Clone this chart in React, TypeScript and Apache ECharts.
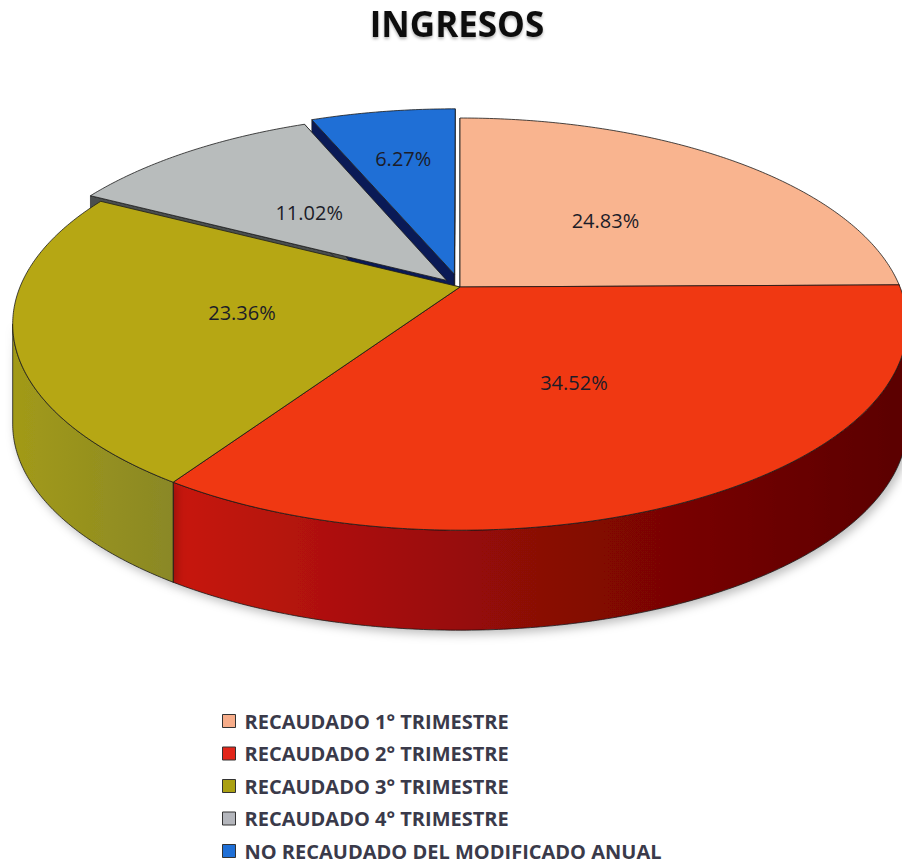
import React, { useEffect, useRef } from "react";
import * as echarts from "echarts";

// ---- data ----
const categories = [
  "RECAUDADO 1° TRIMESTRE",
  "RECAUDADO 2° TRIMESTRE",
  "RECAUDADO 3° TRIMESTRE",
  "RECAUDADO 4° TRIMESTRE",
  "NO RECAUDADO DEL MODIFICADO ANUAL",
];
const shares = [24.83, 34.52, 23.36, 11.02, 6.27];
const titleText = "INGRESOS";

// ---- styles ----
const explodeFraction = [0, 0, 0, 0.045, 0.066];
const topColors = ["#f9b48f", "#f03812", "#b6a714", "#b8bcbc", "#1f6fd6"];
const legendColors = ["#f7ad8a", "#e2261a", "#aaa012", "#b4b6bc", "#1f6fd6"];
const wallStops = [
  ["#c98a6a", "#a86a50"],
  ["#c8170c", "#8a0806", "#5a0202"],
  ["#a29a18", "#8a8826"],
  ["#7c8080", "#5e6262"],
  ["#0d2a78", "#08184a"],
];
const cutColors = ["#8a6a5a", "#7a0a04", "#6e6a10", "#4a4e4e", "#0a1a56"];

const G = { cx: 460, cy: 287, R: 440, k: 0.4532, p: 0.18, H: 100 };

function project(X: number, Y: number, Z: number): number[] {
  const s = 1 / (1 + (G.p * Y) / G.R);
  return [G.cx + X * s, G.cy - Y * G.k * s + Z * G.H];
}

export default function App() {
  const ref = useRef<HTMLDivElement>(null);
  useEffect(() => {
    if (!ref.current) return;
    const chart = echarts.init(ref.current, null, { renderer: "svg" });
    const total = shares.reduce((a, b) => a + b, 0);
    const vis0 = Math.acos(-G.p);
    const vis1 = 2 * Math.PI - vis0;

    const renderItem = (params: any, api: any) => {
      const i = params.dataIndex;
      const value = api.value(0);
      let start = 0;
      for (let j = 0; j < i; j++) start += shares[j];
      const a0 = (start / total) * 2 * Math.PI;
      const a1 = ((start + value) / total) * 2 * Math.PI;
      const mid = (a0 + a1) / 2;
      const ex = explodeFraction[i] * G.R;
      const ox = ex * Math.sin(mid);
      const oy = ex * Math.cos(mid);
      const rim = (a: number, z: number) =>
        project(ox + G.R * Math.sin(a), oy + G.R * Math.cos(a), z);
      const apex = (z: number) => project(ox, oy, z);
      const arc = (from: number, to: number, z: number) => {
        const pts: number[][] = [];
        const n = Math.max(2, Math.ceil(Math.abs(to - from) / 0.01));
        for (let t = 0; t <= n; t++) pts.push(rim(from + ((to - from) * t) / n, z));
        return pts;
      };
      const children: any[] = [];
      // cut faces
      [a0, a1].forEach((a) => {
        children.push({
          type: "polygon",
          z2: 1,
          shape: { points: [apex(0), rim(a, 0), rim(a, 1), apex(1)] },
          style: { fill: cutColors[i], stroke: "#1a1a1a", lineWidth: 0.6 },
        });
      });
      // outer wall (visible part only)
      const lo = Math.max(a0, vis0);
      const hi = Math.min(a1, vis1);
      if (lo < hi) {
        const pts = arc(lo, hi, 0).concat(arc(hi, lo, 1));
        const stops = wallStops[i];
        children.push({
          type: "polygon",
          z2: 2,
          shape: { points: pts },
          style: {
            fill: new echarts.graphic.LinearGradient(
              0, 0, 1, 0,
              stops.map((c, idx) => ({ offset: idx / (stops.length - 1), color: c }))
            ),
            stroke: "#1a1a1a",
            lineWidth: 0.8,
            shadowBlur: 10,
            shadowColor: "rgba(0,0,0,0.25)",
            shadowOffsetX: 3,
            shadowOffsetY: 4,
          },
        });
      }
      // top
      children.push({
        type: "polygon",
        z2: 3,
        shape: { points: [apex(0)].concat(arc(a0, a1, 0)) },
        style: { fill: topColors[i], stroke: "#1a1a1a", lineWidth: 0.8 },
      });
      // label
      const frac = value / total;
      const lr = (frac < 0.08 ? 0.68 : 0.5) * G.R;
      const lp = project(ox + lr * Math.sin(mid), oy + lr * Math.cos(mid), 0);
      children.push({
        type: "text",
        z2: 4,
        x: lp[0],
        y: lp[1],
        style: {
          text: value.toFixed(2) + "%",
          fill: "#1c1c28",
          fontSize: 20,
          fontFamily: "Open Sans",
          align: "center",
          verticalAlign: "middle",
        },
      });
      return { type: "group", children };
    };

    chart.setOption({
      animation: false,
      backgroundColor: "#ffffff",
      title: {
        text: titleText,
        left: 457,
        textAlign: "center",
        top: 6,
        padding: 0,
        textStyle: {
          fontFamily: "Open Sans",
          fontSize: 35,
          fontWeight: "bold",
          color: "#111111",
          textShadowColor: "rgba(0,0,0,0.3)",
          textShadowBlur: 3,
          textShadowOffsetY: 2,
        },
      },
      legend: {
        orient: "vertical",
        left: 222,
        top: 711,
        height: 300,
        padding: 0,
        icon: "rect",
        itemWidth: 13,
        itemHeight: 13,
        itemGap: 12.5,
        selectedMode: false,
        itemStyle: { borderColor: "#333333", borderWidth: 1 },
        textStyle: {
          fontFamily: "Open Sans",
          fontSize: 20,
          fontWeight: "bold",
          color: "#3a3a4a",
          padding: [0, 0, 0, 4],
        },
        data: categories,
      },
      series: [
        {
          type: "custom",
          coordinateSystem: "none",
          renderItem,
          data: shares.map((v, i) => ({ name: categories[i], value: [v] })),
          silent: true,
        },
        {
          type: "pie",
          center: [-200, -200],
          radius: [0, 1],
          silent: true,
          label: { show: false },
          labelLine: { show: false },
          data: shares.map((v, i) => ({
            name: categories[i],
            value: v,
            itemStyle: { color: legendColors[i] },
          })),
        },
      ],
    });
    return () => chart.dispose();
  }, []);
  return (
    <div
      ref={ref}
      style={{ position: "fixed", left: 0, top: 0, width: 902, height: 866 }}
    />
  );
}
